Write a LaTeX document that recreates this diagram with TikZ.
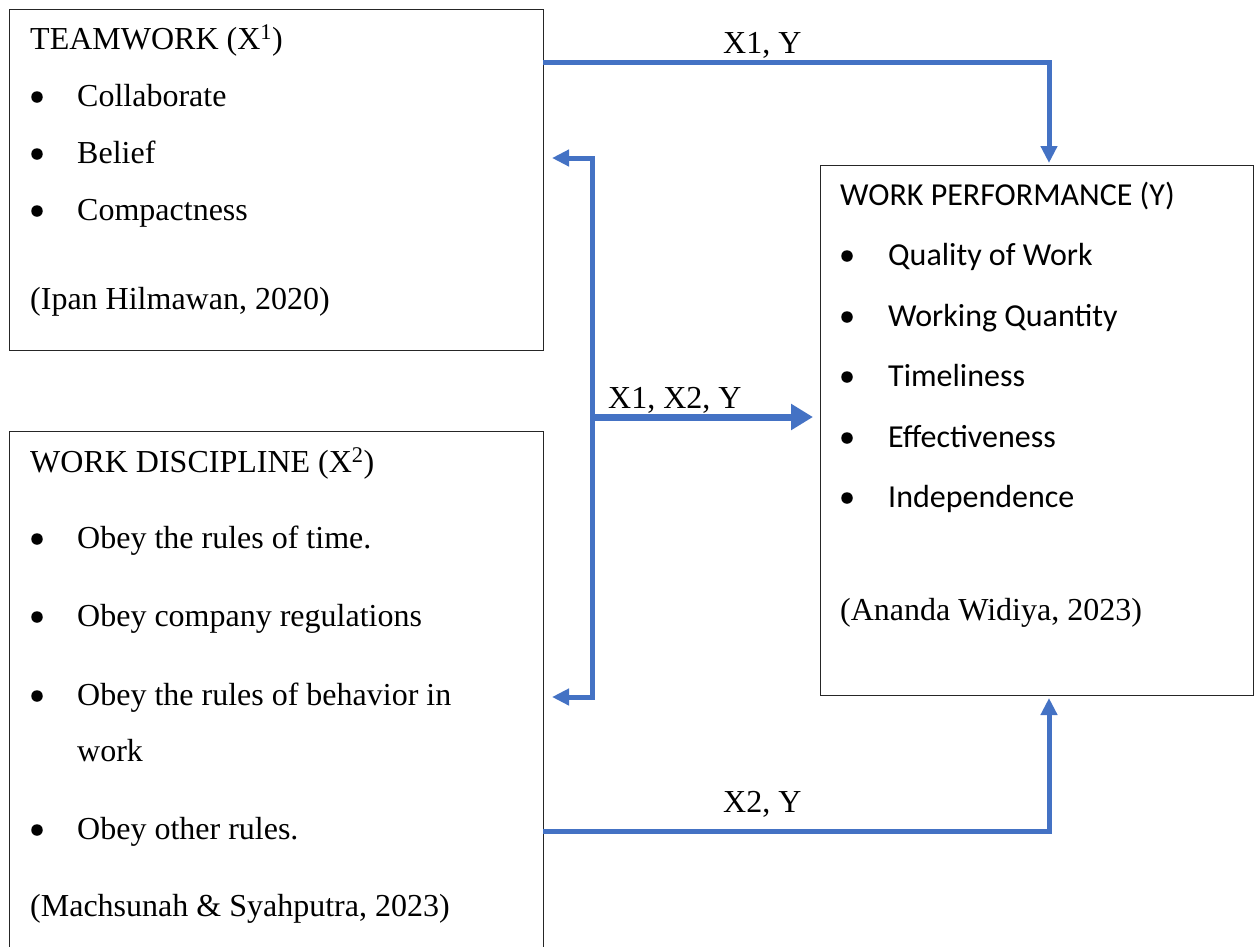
\documentclass[tikz,border=0pt]{standalone}
\usepackage{fontspec}
\setmainfont{Liberation Serif}
\newfontfamily\calibrifont{Carlito}
\usetikzlibrary{arrows.meta}
\definecolor{flowblue}{HTML}{4472C4}
\begin{document}
\begin{tikzpicture}[x=1pt,y=-1pt,
  box/.style={draw=black!85, line width=1.3pt, anchor=north west, inner sep=0pt},
  txt/.style={anchor=base west, inner sep=0pt, font=\fontsize{32}{38}\selectfont},
  sanstxt/.style={txt, font=\fontsize{32}{38}\selectfont\calibrifont},
  bul/.style={circle, fill=black, inner sep=0pt, minimum size=11.5pt},
  lbl/.style={anchor=base west, inner sep=0pt, font=\fontsize{32}{38}\selectfont},
  flow/.style={draw=flowblue, line width=5pt, -{Triangle[width=16pt,length=17pt]}},
  bigflow/.style={draw=flowblue, line width=7pt, -{Triangle[width=25pt,length=22pt]}},
  flowplain/.style={draw=flowblue, line width=5pt}]
\useasboundingbox (0,0) rectangle (1255,946);
\clip (0,0) rectangle (1255,946);

% boxes
\node[box, minimum width=534pt, minimum height=341pt] (tw) at (9,9) {};
\node[box, minimum width=534pt, minimum height=540pt] (wd) at (9,431) {};
\node[box, minimum width=433pt, minimum height=530pt] (wp) at (820,165) {};

% teamwork
\node[txt] (tw-t) at (30,49) {TEAMWORK (X\textsuperscript{1})};
\node[bul] (tw-b1) at (37,97) {};
\node[txt] (tw-i1) at (77,106) {Collaborate};
\node[bul] (tw-b2) at (37,154) {};
\node[txt] (tw-i2) at (77,163) {Belief};
\node[bul] (tw-b3) at (37,211) {};
\node[txt] (tw-i3) at (77,220) {Compactness};
\node[txt] (tw-c) at (30,309) {(Ipan Hilmawan, 2020)};

% work discipline
\node[txt] (wd-t) at (30,472) {WORK DISCIPLINE (X\textsuperscript{2})};
\node[bul] (wd-b1) at (37,539) {};
\node[txt] (wd-i1) at (77,548) {Obey the rules of time.};
\node[bul] (wd-b2) at (37,617) {};
\node[txt] (wd-i2) at (77,626) {Obey company regulations};
\node[bul] (wd-b3) at (37,696) {};
\node[txt] (wd-i3) at (77,705) {Obey the rules of behavior in};
\node[txt] (wd-i3b) at (77,761) {work};
\node[bul] (wd-b4) at (37,830) {};
\node[txt] (wd-i4) at (77,839) {Obey other rules.};
\node[txt] (wd-c) at (30,916) {(Machsunah \& Syahputra, 2023)};

% work performance
\node[sanstxt] (wp-t) at (840,205) {WORK PERFORMANCE (Y)};
\node[bul] (wp-b1) at (847,256) {};
\node[sanstxt] (wp-i1) at (888,265) {Quality of Work};
\node[bul] (wp-b2) at (847,317) {};
\node[sanstxt] (wp-i2) at (888,326) {Working Quantity};
\node[bul] (wp-b3) at (847,377) {};
\node[sanstxt] (wp-i3) at (888,386) {Timeliness};
\node[bul] (wp-b4) at (847,438) {};
\node[sanstxt] (wp-i4) at (888,447) {Effectiveness};
\node[bul] (wp-b5) at (847,498) {};
\node[sanstxt] (wp-i5) at (888,507) {Independence};
\node[txt] (wp-c) at (840,620) {(Ananda Widiya, 2023)};

% connector points
\coordinate (a-start) at (543,62);
\coordinate (a-end) at (1049,163);
\coordinate (b-start) at (543,831);
\coordinate (b-end) at (1049,698);
\coordinate (f-top) at (552,158);
\coordinate (f-bot) at (552,697);
\coordinate (f-x) at (592,417);
\coordinate (f-end) at (813,417);

% connectors
\draw[flow] (a-start) -| (a-end);
\draw[flow] (b-start) -| (b-end);
\draw[flowplain, {Triangle[width=16pt,length=17pt]}-{Triangle[width=16pt,length=17pt]}]
  (f-top) -- (f-top -| f-x) -- (f-bot -| f-x) -- (f-bot);
\draw[bigflow] (f-x) -- (f-end);

% labels
\node[lbl] (l-a) at (723,53) {X1, Y};
\node[lbl] (l-f) at (608,408) {X1, X2, Y};
\node[lbl] (l-b) at (723,812) {X2, Y};
\end{tikzpicture}
\end{document}
